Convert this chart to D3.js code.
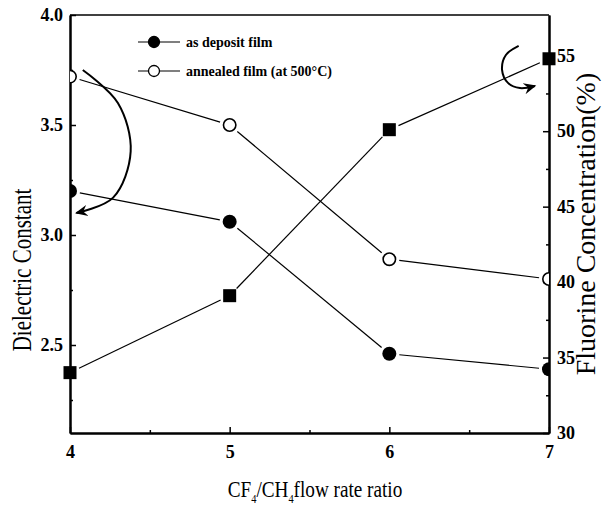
<!DOCTYPE html>
<html>
<head>
<meta charset="utf-8">
<script src="https://cdn.jsdelivr.net/npm/d3@7"></script>
<style>
  body { margin: 0; background: #fff; }
  svg { display: block; }
</style>
</head>
<body>
<div id="chart"></div>
<script>
'use strict';

/* Chart values. */
const ratios = [4, 5, 6, 7];
const asDeposit = [3.20, 3.06, 2.46, 2.39];
const annealed = [3.72, 3.50, 2.89, 2.80];
const fluorine = [34.0, 39.1, 50.1, 54.8];

const xTicks = [4, 5, 6, 7];
const xMinorTicks = [4.5, 5.5, 6.5];
const leftTicks = [2.5, 3.0, 3.5, 4.0];
const leftMinorTicks = [2.25, 2.75, 3.25, 3.75];
const rightTicks = [30, 35, 40, 45, 50, 55];
const rightMinorTicks = [32.5, 37.5, 42.5, 47.5, 52.5];

const legendLabels = ['as deposit film', 'annealed film (at 500\u00B0C)'];

/* Curved annotation arrows, in data units (x, y on the axis they point to). */
const leftArrow = [[4.08, 3.75], [4.30, 3.60], [4.38, 3.38], [4.27, 3.17], [4.04, 3.10]];
const rightArrow = [[6.81, 55.65], [6.73, 55.05], [6.706, 54.06], [6.743, 53.2],
  [6.818, 52.86], [6.912, 53.0]];

const canvasWidth = 603;
const canvasHeight = 508;
const margins = {top: 15, right: 54, bottom: 75, left: 70};
const width = canvasWidth - margins.left - margins.right;
const height = canvasHeight - margins.top - margins.bottom;
const serif = '"Liberation Serif", "DejaVu Serif", serif';

const svg = d3.select('#chart').append('svg')
    .attr('width', canvasWidth)
    .attr('height', canvasHeight);

const chart = svg.append('g')
    .attr('transform', `translate(${margins.left},${margins.top})`);

const x = d3.scaleLinear().domain([4, 7]).range([0, width]);
const yLeft = d3.scaleLinear().domain([2.1, 4.0]).range([height, 0]);
const yRight = d3.scaleLinear().domain([30, 57.7]).range([height, 0]);

const defs = svg.append('defs');
defs.append('clipPath')
    .attr('id', 'plot-clip')
    .append('rect')
    .attr('width', width)
    .attr('height', height);
defs.append('marker')
    .attr('id', 'arrow-head')
    .attr('viewBox', '0 0 10 10')
    .attr('refX', 8)
    .attr('refY', 5)
    .attr('markerWidth', 7)
    .attr('markerHeight', 7)
    .attr('orient', 'auto')
    .append('path')
    .attr('d', 'M0,1 L9,5 L0,9 L3,5 Z')
    .attr('fill', '#000');

/* Axes: ticks point into the plot. */
function styleAxis(g, fontSize) {
  g.selectAll('.domain').attr('stroke', '#000').attr('stroke-width', 2);
  g.selectAll('.tick line').attr('stroke', '#000').attr('stroke-width', 1.5);
  g.selectAll('.tick text')
      .attr('fill', '#000')
      .style('font-family', serif)
      .style('font-weight', 'bold')
      .style('font-size', `${fontSize}px`);
}

const xAxis = chart.append('g')
    .attr('transform', `translate(0,${height})`)
    .call(d3.axisBottom(x).tickValues(xTicks).tickFormat(d3.format('d'))
        .tickSizeInner(-6).tickSizeOuter(0).tickPadding(12));
styleAxis(xAxis, 18);
chart.append('g')
    .attr('transform', `translate(0,${height})`)
    .call(d3.axisBottom(x).tickValues(xMinorTicks).tickFormat('')
        .tickSizeInner(-3).tickSizeOuter(0))
    .call((g) => styleAxis(g, 10));

const leftAxis = chart.append('g')
    .call(d3.axisLeft(yLeft).tickValues(leftTicks).tickFormat(d3.format('.1f'))
        .tickSizeInner(-6).tickSizeOuter(0).tickPadding(7));
styleAxis(leftAxis, 18);
chart.append('g')
    .call(d3.axisLeft(yLeft).tickValues(leftMinorTicks).tickFormat('')
        .tickSizeInner(-3).tickSizeOuter(0))
    .call((g) => styleAxis(g, 10));

const rightAxis = chart.append('g')
    .attr('transform', `translate(${width},0)`)
    .call(d3.axisRight(yRight).tickValues(rightTicks).tickFormat(d3.format('d'))
        .tickSizeInner(-6).tickSizeOuter(0).tickPadding(8));
styleAxis(rightAxis, 18);
chart.append('g')
    .attr('transform', `translate(${width},0)`)
    .call(d3.axisRight(yRight).tickValues(rightMinorTicks).tickFormat('')
        .tickSizeInner(-3).tickSizeOuter(0))
    .call((g) => styleAxis(g, 10));

/* Frame top edge. */
chart.append('line')
    .attr('x1', 0).attr('x2', width)
    .attr('y1', 0).attr('y2', 0)
    .attr('stroke', '#000')
    .attr('stroke-width', 1.5);

/* Series: lines stop short of each marker, as in the original. */
const series = [
  {values: asDeposit, y: yLeft, kind: 'filled'},
  {values: annealed, y: yLeft, kind: 'open'},
  {values: fluorine, y: yRight, kind: 'square'},
];

const markerRadius = 7;
const lineGap = markerRadius + 3;

series.forEach((s) => {
  const pts = ratios.map((r, i) => [x(r), s.y(s.values[i])]);
  const segments = d3.pairs(pts).map(([a, b]) => {
    const dx = b[0] - a[0];
    const dy = b[1] - a[1];
    const len = Math.hypot(dx, dy);
    const ux = dx / len;
    const uy = dy / len;
    return [a[0] + ux * lineGap, a[1] + uy * lineGap,
      b[0] - ux * lineGap, b[1] - uy * lineGap];
  });
  chart.append('g')
      .selectAll('line')
      .data(segments)
      .join('line')
      .attr('x1', (d) => d[0]).attr('y1', (d) => d[1])
      .attr('x2', (d) => d[2]).attr('y2', (d) => d[3])
      .attr('stroke', '#000')
      .attr('stroke-width', 1.2);

  if (s.kind === 'square') {
    const side = 13;
    chart.append('g')
        .selectAll('rect')
        .data(pts)
        .join('rect')
        .attr('x', (d) => d[0] - side / 2)
        .attr('y', (d) => d[1] - side / 2)
        .attr('width', side)
        .attr('height', side)
        .attr('fill', '#000');
  } else {
    chart.append('g')
        .attr('clip-path', 'url(#plot-clip)')
        .selectAll('circle')
        .data(pts)
        .join('circle')
        .attr('cx', (d) => d[0])
        .attr('cy', (d) => d[1])
        .attr('r', s.kind === 'open' ? markerRadius - 0.8 : markerRadius)
        .attr('fill', s.kind === 'open' ? '#fff' : '#000')
        .attr('stroke', '#000')
        .attr('stroke-width', s.kind === 'open' ? 1.6 : 0);
  }
});

/* Curved arrows pointing at the axis each series belongs to. */
const arrowLine = d3.line().curve(d3.curveCatmullRom.alpha(0.5));
chart.append('path')
    .attr('d', arrowLine(leftArrow.map((p) => [x(p[0]), yLeft(p[1])])))
    .attr('fill', 'none')
    .attr('stroke', '#000')
    .attr('stroke-width', 2)
    .attr('marker-end', 'url(#arrow-head)');
chart.append('path')
    .attr('d', arrowLine(rightArrow.map((p) => [x(p[0]), yRight(p[1])])))
    .attr('fill', 'none')
    .attr('stroke', '#000')
    .attr('stroke-width', 2)
    .attr('marker-end', 'url(#arrow-head)');

/* Legend. */
const legend = svg.append('g').attr('transform', 'translate(138,42)');
legendLabels.forEach((label, i) => {
  const row = legend.append('g').attr('transform', `translate(0,${i * 29})`);
  row.append('line')
      .attr('x1', 0).attr('x2', 42)
      .attr('stroke', '#000')
      .attr('stroke-width', 1.2);
  row.append('circle')
      .attr('cx', 16)
      .attr('r', 5.5)
      .attr('fill', i === 0 ? '#000' : '#fff')
      .attr('stroke', '#000')
      .attr('stroke-width', 1.3);
  row.append('text')
      .attr('x', 48)
      .attr('y', 4.5)
      .style('font-family', serif)
      .style('font-weight', 'bold')
      .style('font-size', '14px')
      .text(label);
});

/* Axis titles. */
svg.append('text')
    .attr('transform', 'translate(31,270) rotate(-90) scale(0.75,1)')
    .attr('text-anchor', 'middle')
    .style('font-family', serif)
    .style('font-size', '28px')
    .text('Dielectric Constant');

svg.append('text')
    .attr('transform', 'translate(595,224) rotate(-90)')
    .attr('text-anchor', 'middle')
    .style('font-family', serif)
    .style('font-size', '28px')
    .text('Fluorine Concentration(%)');

const xTitle = svg.append('text')
    .attr('transform', 'translate(315,497) scale(0.8,1)')
    .attr('text-anchor', 'middle')
    .style('font-family', serif)
    .style('font-size', '24px');
xTitle.append('tspan').text('CF');
xTitle.append('tspan').attr('dy', 6).style('font-size', '13px').text('4');
xTitle.append('tspan').attr('dy', -6).text('/CH');
xTitle.append('tspan').attr('dy', 6).style('font-size', '13px').text('4');
xTitle.append('tspan').attr('dy', -6).text('flow rate ratio');
</script>
</body>
</html>
